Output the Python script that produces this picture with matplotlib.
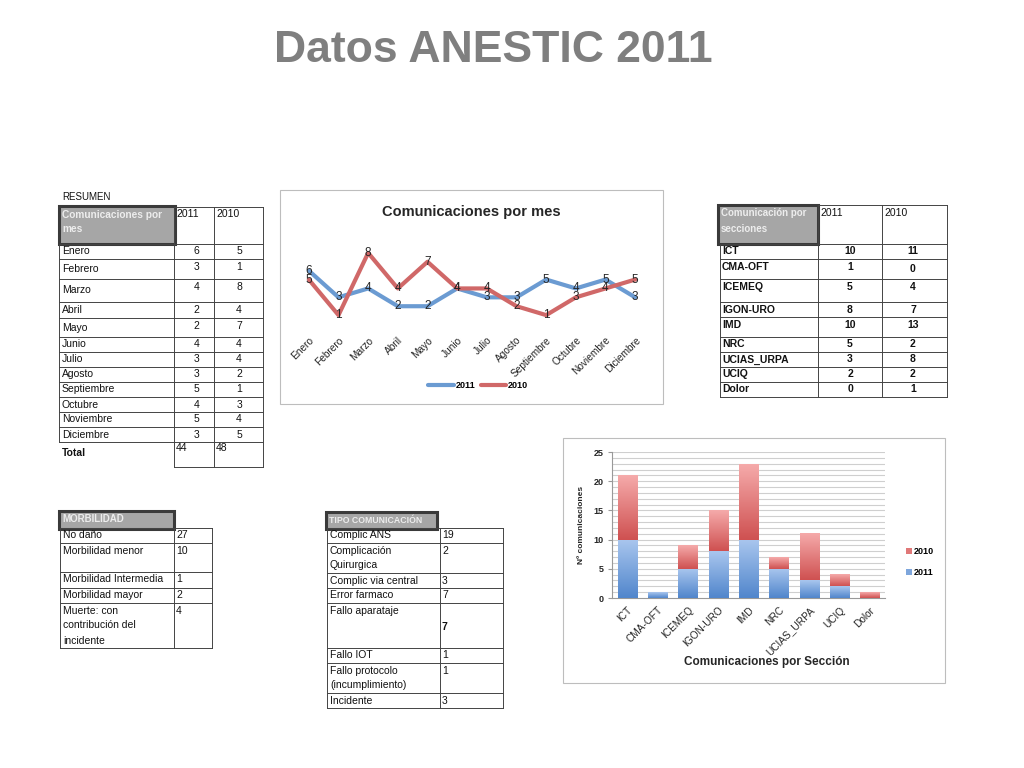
import matplotlib
matplotlib.use('Agg')
import matplotlib.pyplot as plt
import numpy as np
from matplotlib.lines import Line2D
from matplotlib.patches import Rectangle
from matplotlib.colors import LinearSegmentedColormap

plt.rcParams['font.family'] = ['Liberation Sans', 'DejaVu Sans']

# datos
meses = ["Enero", "Febrero", "Marzo", "Abril", "Mayo", "Junio", "Julio",
         "Agosto", "Septiembre", "Octubre", "Noviembre", "Diciembre"]
mes_2011 = [6, 3, 4, 2, 2, 4, 3, 3, 5, 4, 5, 3]
mes_2010 = [5, 1, 8, 4, 7, 4, 4, 2, 1, 3, 4, 5]
total_2011 = 44
total_2010 = 48

secciones = ["ICT", "CMA-OFT", "ICEMEQ", "IGON-URO", "IMD", "NRC", "UCIAS_URPA", "UCIQ", "Dolor"]
sec_2011 = [10, 1, 5, 8, 10, 5, 3, 2, 0]
sec_2010 = [11, 0, 4, 7, 13, 2, 8, 2, 1]

morbilidad = ["No daño", "Morbilidad menor", "Morbilidad Intermedia", "Morbilidad mayor",
              "Muerte: con\ncontribución del\nincidente"]
morb_valores = [27, 10, 1, 2, 4]

tipos = ["Complic ANS", "Complicación\nQuirurgica", "Complic via central", "Error farmaco",
         "Fallo aparataje", "Fallo IOT", "Fallo protocolo\n(incumplimiento)", "Incidente"]
tipo_valores = [19, 2, 3, 7, 7, 1, 1, 3]

azul = "#6b9bd2"
rojo = "#d06868"
FS = 7.5

W, H = 1024, 768
fig = plt.figure(figsize=(10.24, 7.68), dpi=100)


def fx(x):
    return x / W


def fy(y):
    return 1 - y / H


def txt(x, y, s, **kw):
    kw.setdefault('fontsize', FS)
    kw.setdefault('va', 'center')
    kw.setdefault('color', '#111111')
    fig.text(fx(x), fy(y), s, **kw)


def hline(x0, x1, y, c='#444444', lw=0.7):
    fig.add_artist(Line2D([fx(x0), fx(x1)], [fy(y), fy(y)], color=c, lw=lw))


def vline(x, y0, y1, c='#444444', lw=0.7):
    fig.add_artist(Line2D([fx(x), fx(x)], [fy(y0), fy(y1)], color=c, lw=lw))


def rect(x0, y0, x1, y1, **kw):
    fig.add_artist(Rectangle((fx(x0), fy(y1)), (x1 - x0) / W, (y1 - y0) / H,
                             transform=fig.transFigure, **kw))


def cabecera(x0, y0, x1, y1, lineas, fs=FS):
    rect(x0, y0, x1, y1, facecolor='#a6a6a6', edgecolor='#3a3a3a', lw=2.2)
    for i, s in enumerate(lineas):
        txt(x0 + 3, y0 + 8.5 + 15 * i, s, color='#ededed', fontweight='bold', fontsize=fs)


def multilinea(x, y, s, **kw):
    for i, parte in enumerate(s.split("\n")):
        txt(x, y + 15 * i, parte, **kw)


# titulo
txt(493, 50, "Datos ANESTIC 2011", fontsize=32, fontweight='bold', color='#7f7f7f', ha='center')

# ---- tabla resumen ----
txt(62, 197, "RESUMEN", fontsize=7)
filas1 = [244, 259, 279, 302, 318, 337, 352, 367, 382, 397, 412, 427, 442]
cabecera(59, 206, 175, 244, ["Comunicaciones por", "mes"], fs=7.3)
txt(176, 214, "2011")
txt(216, 214, "2010")
hline(174, 263, 207)
for x in [174, 214, 263]:
    vline(x, 207, 467)
vline(59, 244, 442)
for y in filas1:
    hline(59, 263, y)
hline(174, 263, 467)
for i, m in enumerate(meses):
    top, bot = filas1[i], filas1[i + 1]
    txt(62, (top + bot) / 2, m)
    yn = min((top + bot) / 2, top + 8)
    txt(199, yn, str(mes_2011[i]), ha='right')
    txt(242, yn, str(mes_2010[i]), ha='right')
txt(62, 453, "Total", fontweight='bold')
txt(176, 448, str(total_2011))
txt(216, 448, str(total_2010))

# ---- tabla secciones ----
filas2 = [244, 259, 279, 302, 317, 337, 352, 367, 382, 397]
cabecera(718, 205, 818, 244, ["Comunicación por", "secciones"], fs=7)
txt(820, 213, "2011")
txt(884, 213, "2010")
hline(818, 947, 205)
for x in [818, 882, 947]:
    vline(x, 205, 397)
vline(720, 244, 397)
for y in filas2:
    hline(720, 947, y)
for i, s in enumerate(secciones):
    top, bot = filas2[i], filas2[i + 1]
    yl = min((top + bot) / 2, top + 8)
    txt(722, yl, s, fontweight='bold')
    txt(850, yl, str(sec_2011[i]), ha='center', fontweight='bold')
    txt(913, (top + bot) / 2 if sec_2010[i] == 0 else yl, str(sec_2010[i]), ha='center', fontweight='bold')

# ---- tabla morbilidad ----
filas3 = [528, 543, 572, 588, 603, 648]
cabecera(59, 511, 174, 529, ["MORBILIDAD"], fs=7)
for x in [60, 174, 212]:
    vline(x, 528, 648)
for y in filas3:
    hline(60, 212, y)
for i, s in enumerate(morbilidad):
    multilinea(63, filas3[i] + 7.5, s)
    txt(176, filas3[i] + 7.5, str(morb_valores[i]))

# ---- tabla tipo comunicacion ----
filas4 = [528, 543, 573, 588, 603, 648, 663, 693, 708]
cabecera(326, 512, 437, 529, ["TIPO COMUNICACIÓN"], fs=6.3)
for x in [327, 440, 503]:
    vline(x, 528, 708)
for y in filas4:
    hline(327, 503, y)
for i, s in enumerate(tipos):
    multilinea(330, filas4[i] + 7.5, s)
    if s == "Fallo aparataje":
        txt(442, (filas4[i] + filas4[i + 1]) / 2 + 1, str(tipo_valores[i]), fontweight='bold')
    else:
        txt(442, filas4[i] + 7.5, str(tipo_valores[i]))

# ---- grafico de lineas ----
rect(280, 190, 663, 404, facecolor='white', edgecolor='#bdbdbd', lw=0.8, zorder=0)
txt(471, 212, "Comunicaciones por mes", fontsize=10.5, fontweight='bold', color='#262626', ha='center')
ax1 = fig.add_axes([fx(294), fy(324), 356 / W, 80 / H])
x = np.arange(len(meses))
ax1.plot(x, mes_2011, color=azul, lw=3, label="2011", solid_capstyle='round')
ax1.plot(x, mes_2010, color=rojo, lw=3, label="2010", solid_capstyle='round')
for i in x:
    ax1.text(i, mes_2011[i], str(mes_2011[i]), ha='center', va='center', fontsize=8.5, color='#262626')
    ax1.text(i, mes_2010[i], str(mes_2010[i]), ha='center', va='center', fontsize=8.5, color='#262626')
ax1.set_xlim(-0.5, len(meses) - 0.5)
ax1.set_ylim(0, 9)
ax1.set_yticks([])
ax1.set_xticks(x)
ax1.set_xticklabels(meses, rotation=45, ha='right', va='top', rotation_mode='anchor',
                    fontsize=7.3, color='#262626')
ax1.tick_params(axis='x', length=0, pad=8)
for sp in ax1.spines.values():
    sp.set_visible(False)
ax1.patch.set_alpha(0)
fig.legend(handles=ax1.get_lines(), labels=["2011", "2010"], loc='center',
           bbox_to_anchor=(fx(478), fy(386)), ncol=2, frameon=False, handlelength=2.8,
           columnspacing=0.6, handletextpad=0.2, prop={'size': 6.5, 'weight': 'bold'})

# ---- grafico de barras ----
rect(563, 438, 945, 683, facecolor='white', edgecolor='#bdbdbd', lw=0.8, zorder=0)
ax2 = fig.add_axes([fx(612), fy(598), 273 / W, 146 / H])
cm_azul = LinearSegmentedColormap.from_list("az", ["#5186cc", "#a9c6ee"])
cm_rojo = LinearSegmentedColormap.from_list("ro", ["#cf5151", "#f5aaaa"])
grad = np.linspace(0, 1, 64).reshape(-1, 1)
ancho = 0.63
for i in range(len(secciones)):
    b0 = 0
    for val, cm in [(sec_2011[i], cm_azul), (sec_2010[i], cm_rojo)]:
        if val > 0:
            ax2.imshow(grad, cmap=cm, origin='lower', aspect='auto', zorder=3,
                       extent=[i - ancho / 2, i + ancho / 2, b0, b0 + val])
        b0 += val
ax2.set_xlim(-0.5, len(secciones) - 0.5)
ax2.set_ylim(0, 25)
for yg in range(1, 26):
    ax2.axhline(yg, color='#cfcfcf', lw=0.8, zorder=1)
ax2.set_yticks(range(0, 26, 5))
ax2.set_yticklabels([str(v) for v in range(0, 26, 5)], fontsize=6.5, fontweight='bold', color='#262626')
ax2.tick_params(axis='y', length=3, color='#999999', pad=3)
ax2.set_xticks(range(len(secciones)))
ax2.set_xticklabels(secciones, rotation=45, ha='right', va='top', rotation_mode='anchor',
                    fontsize=7.3, color='#262626')
ax2.tick_params(axis='x', length=0, pad=5)
for sp in ['top', 'right']:
    ax2.spines[sp].set_visible(False)
ax2.spines['left'].set_color('#999999')
ax2.spines['bottom'].set_color('#999999')
ax2.set_ylabel("Nº comunicaciones", fontsize=6, fontweight='bold', color='#262626', labelpad=6)
txt(767, 662, "Comunicaciones por Sección", fontsize=8.5, fontweight='bold', color='#262626', ha='center')
h10 = Rectangle((0, 0), 1, 1, facecolor="#e07878")
h11 = Rectangle((0, 0), 1, 1, facecolor="#7ea6dc")
fig.legend(handles=[h10, h11], labels=["2010", "2011"], loc='center left',
           bbox_to_anchor=(fx(898), fy(562)), frameon=False, handlelength=0.7, handleheight=0.7,
           handletextpad=0.2, labelspacing=1.3, prop={'size': 6.5, 'weight': 'bold'})

fig.savefig("out.png", dpi=100)
